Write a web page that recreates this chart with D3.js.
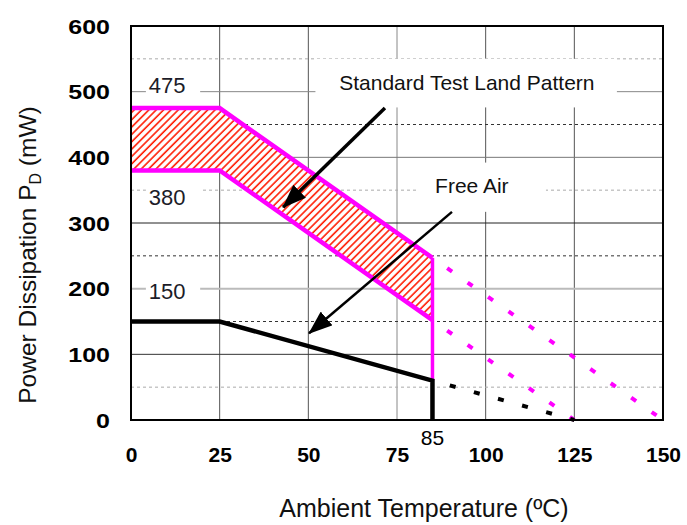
<!DOCTYPE html>
<html>
<head>
<meta charset="utf-8">
<script src="https://cdn.jsdelivr.net/npm/d3@7"></script>
<style>
  body { margin: 0; background: #fff; }
  svg { font-family: "Liberation Sans", Arial, Helvetica, sans-serif; }
</style>
</head>
<body>
<div id="chart"></div>
<script>
// Axis ticks
const tempTicks = [0, 25, 50, 75, 100, 125, 150];
const powerTicks = [0, 100, 200, 300, 400, 500, 600];
const solidGrid = [100, 200, 300, 400, 500];
const dottedGrid = [50, 150, 250, 350, 450, 550];

// Standard test land pattern band (upper / lower bound)
const bandTemp = [0, 25, 85];
const bandUpper = [475, 475, 247];
const bandLower = [380, 380, 152];
const upperExtTemp = [85, 150];
const upperExtPower = [247, 0];
const lowerExtTemp = [85, 125];
const lowerExtPower = [152, 0];

// Free air curve
const freeAirTemp = [0, 25, 85];
const freeAirPower = [150, 150, 60];
const freeAirExtTemp = [85, 125];
const freeAirExtPower = [60, 0];

// Value labels on the left
const valueLabels = ["475", "380", "150"];
const valueLabelPower = [510, 339, 196];

// Annotations: [temp, power]
const noteText = ["Standard Test Land Pattern", "Free Air"];
const noteAt = [[94.7, 503], [96.1, 345]];
const noteBox = [[52, 137, 550, 476], [80.5, 117, 392, 317]];
const arrowFrom = [[71.6, 475], [90.5, 317]];
const arrowTo = [[42.9, 324], [50.2, 132]];

const width = 687, height = 525;
const x = d3.scaleLinear().domain([0, 150]).range([131, 663]);
const y = d3.scaleLinear().domain([0, 600]).range([420, 26]);

const svg = d3.select('#chart').append('svg')
  .attr('width', width).attr('height', height);

const defs = svg.append('defs');
const hatch = defs.append('pattern')
  .attr('id', 'hatch')
  .attr('patternUnits', 'userSpaceOnUse')
  .attr('width', 5.2).attr('height', 5.2)
  .attr('patternTransform', 'rotate(45)');
hatch.append('rect').attr('width', 5.2).attr('height', 5.2).attr('fill', '#fff');
hatch.append('line')
  .attr('x1', 1).attr('y1', 0).attr('x2', 1).attr('y2', 5.2)
  .attr('stroke', '#ff1a00').attr('stroke-width', 1.6);

defs.append('marker')
  .attr('id', 'arrow')
  .attr('markerUnits', 'userSpaceOnUse')
  .attr('viewBox', '0 0 24 18')
  .attr('refX', 23).attr('refY', 9)
  .attr('markerWidth', 24).attr('markerHeight', 18)
  .attr('orient', 'auto')
  .append('path').attr('d', 'M0,0 L24,9 L0,18 Z').attr('fill', '#000');

// grid
const grid = svg.append('g');
grid.selectAll('.vgrid').data(tempTicks.slice(1, -1)).join('line')
  .attr('x1', d => x(d)).attr('x2', d => x(d))
  .attr('y1', y(600)).attr('y2', y(0))
  .attr('stroke', d => d === 75 ? '#888' : '#555').attr('stroke-width', 1);

const solidColor = {100: '#333', 200: '#bbb', 300: '#222', 400: '#777', 500: '#888'};
grid.selectAll('.hgrid').data(solidGrid).join('line')
  .attr('x1', x(0)).attr('x2', x(150))
  .attr('y1', d => y(d)).attr('y2', d => y(d))
  .attr('stroke', d => solidColor[d])
  .attr('stroke-width', d => d === 200 ? 2 : 1);

const dotColor = {50: '#aaa', 150: '#333', 250: '#333', 350: '#aaa', 450: '#333', 550: '#aaa'};
grid.selectAll('.dgrid').data(dottedGrid).join('line')
  .attr('x1', x(0)).attr('x2', x(150))
  .attr('y1', d => y(d)).attr('y2', d => y(d))
  .attr('stroke', d => dotColor[d])
  .attr('stroke-width', 1)
  .attr('stroke-dasharray', '3,3');

// label boxes (white, hide gridlines)
const boxes = svg.append('g');
boxes.selectAll('rect').data(noteBox).join('rect')
  .attr('x', d => x(d[0])).attr('y', d => y(d[2]))
  .attr('width', d => x(d[1]) - x(d[0]))
  .attr('height', d => y(d[3]) - y(d[2]))
  .attr('fill', '#fff');

// hatched band
const bandPts = bandTemp.map((t, i) => [t, bandUpper[i]])
  .concat(bandTemp.map((t, i) => [t, bandLower[i]]).reverse());
svg.append('path')
  .attr('d', d3.line().x(d => x(d[0])).y(d => y(d[1]))(bandPts) + 'Z')
  .attr('fill', 'url(#hatch)');

const line = d3.line().x(d => x(d[0])).y(d => y(d[1]));
const zip = (a, b) => a.map((v, i) => [v, b[i]]);

// dashed extensions
const ext = [
  {pts: zip(upperExtTemp, upperExtPower), c: '#ff00ff'},
  {pts: zip(lowerExtTemp, lowerExtPower), c: '#ff00ff'},
  {pts: zip(freeAirExtTemp, freeAirExtPower), c: '#000'}
];
svg.selectAll('.ext').data(ext).join('path')
  .attr('d', d => line(d.pts))
  .attr('fill', 'none')
  .attr('stroke', d => d.c)
  .attr('stroke-width', 4)
  .attr('stroke-dasharray', '6,19')
  .attr('stroke-dashoffset', 7);

// band boundaries
svg.append('path').attr('d', line(zip(bandTemp, bandUpper)))
  .attr('fill', 'none').attr('stroke', '#ff00ff').attr('stroke-width', 4.5);
svg.append('path').attr('d', line(zip(bandTemp, bandLower)))
  .attr('fill', 'none').attr('stroke', '#ff00ff').attr('stroke-width', 4.5);
svg.append('path').attr('d', line([[85, bandUpper[2]], [85, freeAirPower[2]]]))
  .attr('fill', 'none').attr('stroke', '#ff00ff').attr('stroke-width', 3.5);

// free air
svg.append('path').attr('d', line(zip(freeAirTemp, freeAirPower).concat([[85, 0]])))
  .attr('fill', 'none').attr('stroke', '#000').attr('stroke-width', 4.5)
  .attr('stroke-linejoin', 'miter');

// border
svg.append('rect')
  .attr('x', x(0)).attr('y', y(600))
  .attr('width', x(150) - x(0)).attr('height', y(0) - y(600))
  .attr('fill', 'none').attr('stroke', '#000').attr('stroke-width', 2);

// value labels
const vl = svg.append('g');
vl.selectAll('rect').data(valueLabels).join('rect')
  .attr('x', x(4.2)).attr('y', (d, i) => y(valueLabelPower[i]) - 12)
  .attr('width', x(19.5) - x(4.2)).attr('height', 24)
  .attr('fill', '#fff');
vl.selectAll('text').data(valueLabels).join('text')
  .attr('x', x(10.2)).attr('y', (d, i) => y(valueLabelPower[i]))
  .attr('dy', '0.36em')
  .attr('text-anchor', 'middle')
  .attr('font-size', 22)
  .attr('fill', '#1c1c28')
  .text(d => d);

// annotations
svg.selectAll('.note').data(noteText).join('text')
  .attr('x', (d, i) => x(noteAt[i][0]))
  .attr('y', (d, i) => y(noteAt[i][1]))
  .attr('text-anchor', 'middle')
  .attr('font-size', 21)
  .attr('fill', '#111')
  .text(d => d);

svg.selectAll('.arrow').data(arrowFrom).join('line')
  .attr('x1', d => x(d[0])).attr('y1', d => y(d[1]))
  .attr('x2', (d, i) => x(arrowTo[i][0])).attr('y2', (d, i) => y(arrowTo[i][1]))
  .attr('stroke', '#000')
  .attr('stroke-width', (d, i) => i === 0 ? 3.5 : 2.5)
  .attr('marker-end', 'url(#arrow)');

// y axis
const yAxis = svg.append('g')
  .attr('transform', `translate(${x(0)},0)`)
  .call(d3.axisLeft(y).tickValues(powerTicks).tickSize(0).tickPadding(22));
yAxis.select('.domain').remove();
yAxis.selectAll('text')
  .attr('x', null).attr('dy', null)
  .attr('transform', 'translate(-21,7) scale(1.25,1)')
  .attr('font-family', '"Liberation Sans", Arial, sans-serif')
  .attr('font-size', 20).attr('font-weight', 'bold').attr('fill', '#000');

// x axis
const xAxis = svg.append('g')
  .attr('transform', `translate(0,${y(0)})`)
  .call(d3.axisBottom(x).tickValues(tempTicks).tickSize(0).tickPadding(27));
xAxis.select('.domain').remove();
xAxis.selectAll('text')
  .attr('font-family', '"Liberation Sans", Arial, sans-serif')
  .attr('font-size', 21).attr('font-weight', 'bold').attr('fill', '#000');

svg.append('text')
  .attr('x', x(85)).attr('y', y(0) + 25)
  .attr('text-anchor', 'middle')
  .attr('font-size', 21).attr('fill', '#000')
  .text('85');

// axis titles
svg.append('text')
  .attr('x', 424).attr('y', 517)
  .attr('text-anchor', 'middle')
  .attr('font-size', 25).attr('fill', '#111')
  .text('Ambient Temperature (ºC)');

const yt = svg.append('text')
  .attr('transform', 'translate(36,255) rotate(-90)')
  .attr('text-anchor', 'middle')
  .attr('font-size', 24.5).attr('fill', '#111');
yt.append('tspan').text('Power Dissipation P');
yt.append('tspan').attr('font-size', 16).attr('dy', 5).text('D');
yt.append('tspan').attr('dy', -5).text(' (mW)');
</script>
</body>
</html>
